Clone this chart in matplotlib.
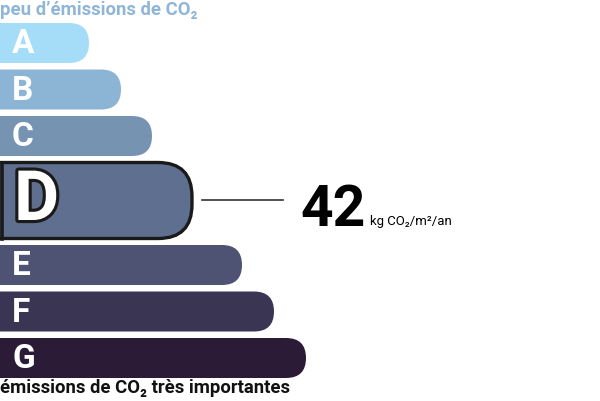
import matplotlib
matplotlib.use('Agg')
from matplotlib import pyplot as plt
from matplotlib.patches import FancyBboxPatch
import matplotlib.patheffects as pe

plt.rcParams['font.family'] = ['Roboto', 'DejaVu Sans']

# GES label data
grades = ['A', 'B', 'C', 'D', 'E', 'F', 'G']
bar_ends = [89, 121, 152, 192, 242, 274, 306]
colors = ['#a5dcf8', '#8cb4d5', '#7793b2', '#5f6f8f', '#4e5273', '#3a3553', '#2b1b37']
value = 42
unit = 'kg CO\u2082/m\u00b2/an'
current = 'D'
title_top = 'peu d\u2019\u00e9missions de CO\u2082'
title_bottom = '\u00e9missions de CO\u2082 tr\u00e8s importantes'

W, H = 600, 401
fig = plt.figure(figsize=(W / 100, H / 100), dpi=100)
ax = fig.add_axes([0, 0, 1, 1])
ax.set_xlim(0, W)
ax.set_ylim(H, 0)
ax.axis('off')

# vertical layout (pixels)
bar_h = 40
gap = 6.5
big_h = 76
y = 23
for g, x1, c in zip(grades, bar_ends, colors):
    if g == current:
        h = big_h
        r = 34
        box = FancyBboxPatch((-60, y), x1 + 60, h,
                             boxstyle='round,pad=0,rounding_size=%d' % r,
                             fc=c, ec='#1a1a1a', lw=2.4, zorder=2)
        ax.add_patch(box)
        ax.plot([1.5, 1.5], [y, y + h], color='#1a1a1a', lw=2.6, zorder=3)
        t = ax.text(14, y + h / 2 + 1, g, color='white', fontsize=50,
                    fontweight='bold', ha='left', va='center', zorder=4)
        t.set_path_effects([pe.Stroke(linewidth=4.5, foreground='#1a1a1a'),
                            pe.Normal()])
        # pointer line and value
        yc = y + h / 2 - 0.5
        ax.plot([202, 283], [yc, yc], color='#333333', lw=1.2)
        ax.text(300, y + h / 2 + 25, str(value), fontsize=41, fontweight='bold',
                ha='left', va='baseline', color='black')
        ax.text(370, y + h / 2 + 24, unit, fontsize=9.5, ha='left',
                va='baseline', color='black')
    else:
        h = bar_h
        box = FancyBboxPatch((-60, y), x1 + 60, h,
                             boxstyle='round,pad=0,rounding_size=%d' % (h / 2),
                             fc=c, ec='none', zorder=2)
        ax.add_patch(box)
        ax.text(12, y + h / 2 + 1, g, color='white', fontsize=24,
                fontweight='bold', ha='left', va='center', zorder=4)
    y += h + gap

ax.text(0, 10, title_top, fontsize=13.3, fontweight='bold', color='#8fb5d7',
        ha='left', va='center')
ax.text(0, 388, title_bottom, fontsize=13.3, fontweight='bold', color='#111111',
        ha='left', va='center')

fig.savefig('out.png', dpi=100)
